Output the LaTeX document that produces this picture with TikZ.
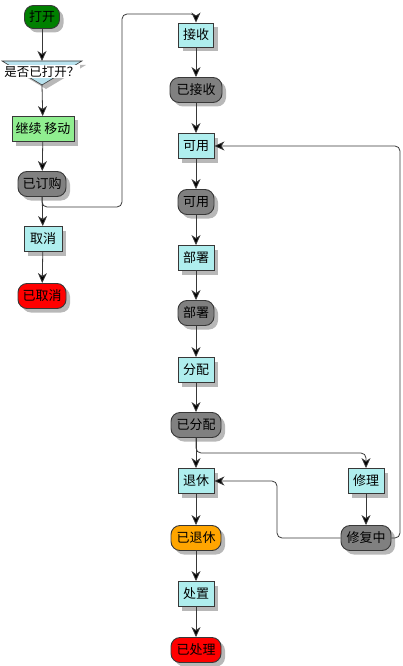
\documentclass[tikz,border=0pt]{standalone}
\usepackage{fontspec}
\setmainfont{Noto Sans CJK SC}
\usetikzlibrary{arrows.meta,shadows}
\definecolor{bd}{HTML}{383838}
\definecolor{cy}{HTML}{AFEEEE}
\definecolor{gn}{HTML}{008000}
\definecolor{lg}{HTML}{90EE90}
\definecolor{gy}{HTML}{808080}
\definecolor{rd}{HTML}{FF0000}
\definecolor{og}{HTML}{FFA500}
\definecolor{tri}{HTML}{B8E2EE}
\tikzset{
  base/.style={draw=bd, line width=0.9pt, inner sep=0pt, minimum height=25pt,
    font=\fontsize{13}{15}\selectfont, text=black,
    drop shadow={shadow xshift=4pt, shadow yshift=-4pt, fill=black!28, opacity=1}},
  act/.style={base, rectangle, fill=cy},
  st/.style={base, rectangle, rounded corners=9pt},
  arr/.style={draw=bd, line width=0.8pt, -{Stealth[length=10pt,width=9pt,inset=3pt,fill=black]}},
}
\begin{document}
\begin{tikzpicture}[x=1pt,y=-1pt]
\useasboundingbox (0,0) rectangle (402,666);
% left column
\node[st, fill=gn, minimum width=35pt, minimum height=23pt] (open) at (42,17) {打开};
\fill[black!28] (6,65) -- (86,65) -- (46,89) -- cycle;
\filldraw[fill=tri, draw=bd, line width=0.6pt] (2,61) -- (82,61) -- (42,85) -- cycle;
\node[fill=white, inner sep=0pt, minimum width=76pt, minimum height=13pt,
  font=\fontsize{12.5}{14}\selectfont] (q) at (42,72) {是否已打开？};
\coordinate (qtop) at (42,61);
\coordinate (qbot) at (42,85);
\node[base, rectangle, fill=lg, minimum width=62pt] (cont) at (43,129) {继续 移动};
\node[st, fill=gy, minimum width=48pt] (ordered) at (42,184) {已订购};
\node[act, minimum width=38pt] (cancel) at (43,239) {取消};
\node[st, fill=rd, minimum width=48pt] (cancelled) at (42,296) {已取消};
% right column
\node[act, minimum width=35pt, minimum height=24pt] (recv) at (196,35) {接收};
\node[st, fill=gy, minimum width=52pt] (received) at (196,90) {已接收};
\node[act, minimum width=36pt] (avail) at (196,146) {可用};
\node[st, fill=gy, minimum width=36pt] (avail2) at (196,202) {可用};
\node[act, minimum width=36pt] (deploy) at (196,258) {部署};
\node[st, fill=gy, minimum width=36pt] (deployed) at (196,313) {部署};
\node[act, minimum width=36pt] (assign) at (196,370) {分配};
\node[st, fill=gy, minimum width=50pt] (assigned) at (196,425) {已分配};
\node[act, minimum width=36pt] (retire) at (196,481) {退休};
\node[st, fill=og, minimum width=50pt] (retired) at (196,538) {已退休};
\node[act, minimum width=36pt] (dispose) at (196,594) {处置};
\node[st, fill=rd, minimum width=50pt] (disposed) at (196,650) {已处理};
\node[act, minimum width=36pt] (repair) at (366,481) {修理};
\node[st, fill=gy, minimum width=50pt] (repairing) at (366,538) {修复中};
% connectors
\draw[arr] (open) -- (qtop);
\draw[arr] (qbot) -- (cont);
\draw[arr] (cont) -- (ordered);
\draw[arr] (ordered) -- (cancel);
\draw[arr] (cancel) -- (cancelled);
\draw[arr, rounded corners=5pt] (ordered.south) -- (42,207) -- (122,207) -- (122,14) -- (196,14) -- (recv.north);
\draw[arr] (recv) -- (received);
\draw[arr] (received) -- (avail);
\draw[arr] (avail) -- (avail2);
\draw[arr] (avail2) -- (deploy);
\draw[arr] (deploy) -- (deployed);
\draw[arr] (deployed) -- (assign);
\draw[arr] (assign) -- (assigned);
\draw[arr] (assigned) -- (retire);
\draw[arr, rounded corners=5pt] (assigned.south) -- (196,453) -- (366,453) -- (repair.north);
\draw[arr] (retire) -- (retired);
\draw[arr] (retired) -- (dispose);
\draw[arr] (dispose) -- (disposed);
\draw[arr] (repair) -- (repairing);
\draw[arr, rounded corners=5pt] (repairing.west) -- (277,538) -- (277,481) -- (retire.east);
\draw[arr, rounded corners=5pt] (repairing.east) -- (400,538) -- (400,146) -- (avail.east);
\end{tikzpicture}
\end{document}
